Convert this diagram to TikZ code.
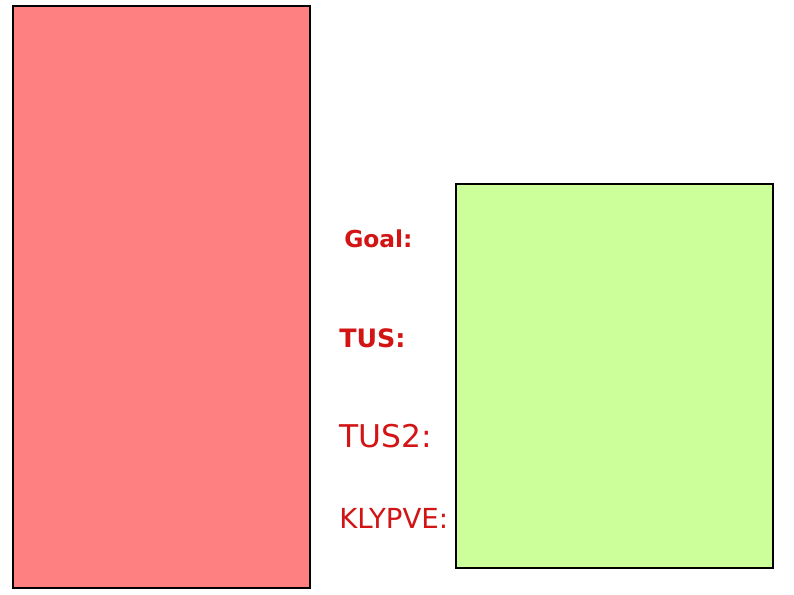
\documentclass[tikz,border=0pt]{standalone}
\usepackage{fontspec}
\setmainfont{DejaVu Sans}
\definecolor{redfill}{RGB}{255,128,128}
\definecolor{greenfill}{RGB}{204,255,153}
\definecolor{labelred}{RGB}{210,20,20}
\begin{document}
\begin{tikzpicture}[x=0.75pt,y=-0.75pt,
  panel/.style={draw=black,line width=0.8pt},
  lbl/.style={text=labelred,anchor=west,inner sep=0pt}]
\useasboundingbox (0,0) rectangle (794,595);
\path[panel,fill=redfill] (13,6) rectangle (310,588);
\path[panel,fill=greenfill] (456,184) rectangle (773,568);
\node[lbl,font=\fontsize{17.5}{20}\selectfont\bfseries] (goal) at (344,239) {Goal:};
\node[lbl,font=\fontsize{19}{22}\selectfont\bfseries] (tus) at (339,338) {TUS:};
\node[lbl,font=\fontsize{23.5}{26}\selectfont] (tus2) at (339,436) {TUS2:};
\node[lbl,font=\fontsize{20.7}{24}\selectfont] (klypve) at (339,518) {KLYPVE:};
\end{tikzpicture}
\end{document}
